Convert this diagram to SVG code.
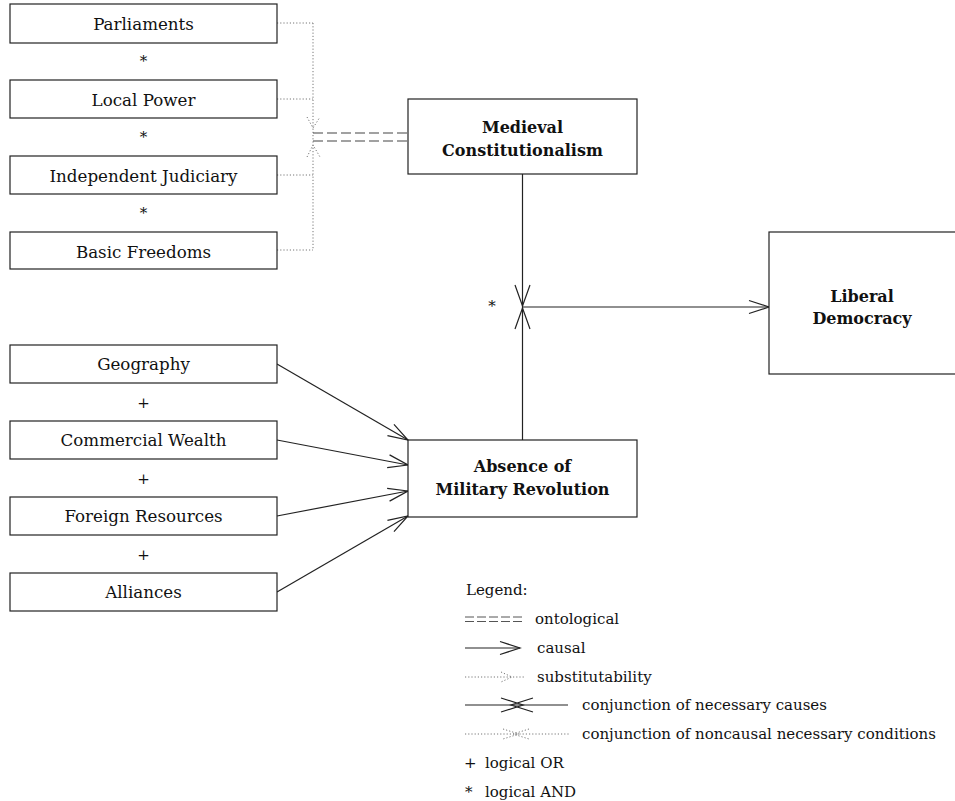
<svg xmlns="http://www.w3.org/2000/svg" width="955" height="801" viewBox="0 0 955 801">
<style>
.box{fill:#fff;stroke:#222;stroke-width:1.2}
.t{font-family:"DejaVu Serif","Liberation Serif",serif;font-size:16.7px;fill:#111;text-anchor:middle}
.b{font-family:"DejaVu Serif","Liberation Serif",serif;font-size:16px;font-weight:bold;fill:#111;text-anchor:middle}
.op{font-family:"DejaVu Serif","Liberation Serif",serif;font-size:15px;fill:#111;text-anchor:middle}
.lg{font-family:"DejaVu Serif","Liberation Serif",serif;font-size:15px;fill:#111}
.dot{fill:none;stroke:#777;stroke-width:1;stroke-dasharray:1.2,2}
.dash{fill:none;stroke:#444;stroke-width:1.2;stroke-dasharray:10,4}
.sol{fill:none;stroke:#222;stroke-width:1.2}
</style>
<defs>
<marker id="arr" markerUnits="userSpaceOnUse" markerWidth="24" markerHeight="16" viewBox="-22 -8 24 16" refX="0" refY="0" orient="auto">
<path d="M-20,-6.5 L0,0 L-20,6.5" fill="none" stroke="#222" stroke-width="1.2"/>
</marker>
</defs>

<g id="connectors">
<path class="dot" d="M277,23 H313 M277,99 H313 M277,175 H313 M277,250 H313 M313,23 V250"/>
<path class="dot" d="M307,117 L313,128 L320,117 M307,157 L313,145 L320,157"/>
<path class="dash" d="M313,133 H408 M313,141 H408"/>
<path class="sol" d="M522.5,174 V440"/>
<path class="sol" d="M515,285 L522.5,306 L530,285 M515,329 L522.5,308 L530,329"/>
<path class="sol" d="M522.5,307 H769" marker-end="url(#arr)"/>
<path class="sol" d="M277,364 L408,440" marker-end="url(#arr)"/>
<path class="sol" d="M277,440 L408,465" marker-end="url(#arr)"/>
<path class="sol" d="M277,516 L408,491" marker-end="url(#arr)"/>
<path class="sol" d="M277,592 L408,516" marker-end="url(#arr)"/>
</g>

<g id="n-parliaments"><rect class="box" x="10" y="4" width="267" height="39"/><text class="t" x="143.5" y="30">Parliaments</text></g>
<text class="op" x="143.5" y="66">*</text>
<g id="n-localpower"><rect class="box" x="10" y="80" width="267" height="38"/><text class="t" x="143.5" y="106">Local Power</text></g>
<text class="op" x="143.5" y="142">*</text>
<g id="n-judiciary"><rect class="box" x="10" y="156" width="267" height="38"/><text class="t" x="143.5" y="182">Independent Judiciary</text></g>
<text class="op" x="143.5" y="218">*</text>
<g id="n-freedoms"><rect class="box" x="10" y="232" width="267" height="37"/><text class="t" x="143.5" y="258">Basic Freedoms</text></g>

<g id="n-geography"><rect class="box" x="10" y="345" width="267" height="38"/><text class="t" x="143.5" y="370">Geography</text></g>
<text class="op" x="143.5" y="408">+</text>
<g id="n-commercial"><rect class="box" x="10" y="421" width="267" height="38"/><text class="t" x="143.5" y="446">Commercial Wealth</text></g>
<text class="op" x="143.5" y="484">+</text>
<g id="n-foreign"><rect class="box" x="10" y="497" width="267" height="38"/><text class="t" x="143.5" y="522">Foreign Resources</text></g>
<text class="op" x="143.5" y="560">+</text>
<g id="n-alliances"><rect class="box" x="10" y="573" width="267" height="38"/><text class="t" x="143.5" y="598">Alliances</text></g>

<g id="n-medieval"><rect class="box" x="408" y="99" width="229" height="75"/><text class="b" x="522.5" y="133">Medieval</text><text class="b" x="522.5" y="156">Constitutionalism</text></g>
<g id="n-absence"><rect class="box" x="408" y="440" width="229" height="77"/><text class="b" x="522.5" y="472">Absence of</text><text class="b" x="522.5" y="495">Military Revolution</text></g>
<g id="n-liberal"><rect class="box" x="769" y="232" width="190" height="142"/><text class="b" x="862" y="302">Liberal</text><text class="b" x="862" y="324">Democracy</text></g>

<text class="op" x="492" y="311">*</text>

<g id="legend">
<text class="lg" x="466" y="595">Legend:</text>
<path fill="none" stroke="#555" stroke-width="1" stroke-dasharray="9,3" d="M465,617 H525 M465,621.5 H525"/>
<text class="lg" x="535" y="624">ontological</text>
<path class="sol" d="M465,648 H520" marker-end="url(#arr)"/>
<text class="lg" x="537" y="653">causal</text>
<path class="dot" d="M465,677 H524"/>
<path class="dot" d="M501,672 L512,677 L501,682"/>
<text class="lg" x="537" y="682">substitutability</text>
<path class="sol" d="M465,705 H568"/>
<path class="sol" d="M501,698 L523,705 L501,712 M533,698 L511,705 L533,712"/>
<text class="lg" x="582" y="710">conjunction of necessary causes</text>
<path class="dot" d="M465,734 H569"/>
<path class="dot" d="M503,729 L519,734 L503,739 M529,729 L513,734 L529,739"/>
<text class="lg" x="582" y="739">conjunction of noncausal necessary conditions</text>
<text class="lg" x="464" y="768">+</text>
<text class="lg" x="485" y="768">logical OR</text>
<text class="lg" x="465" y="797">*</text>
<text class="lg" x="485" y="797">logical AND</text>
</g>
</svg>
